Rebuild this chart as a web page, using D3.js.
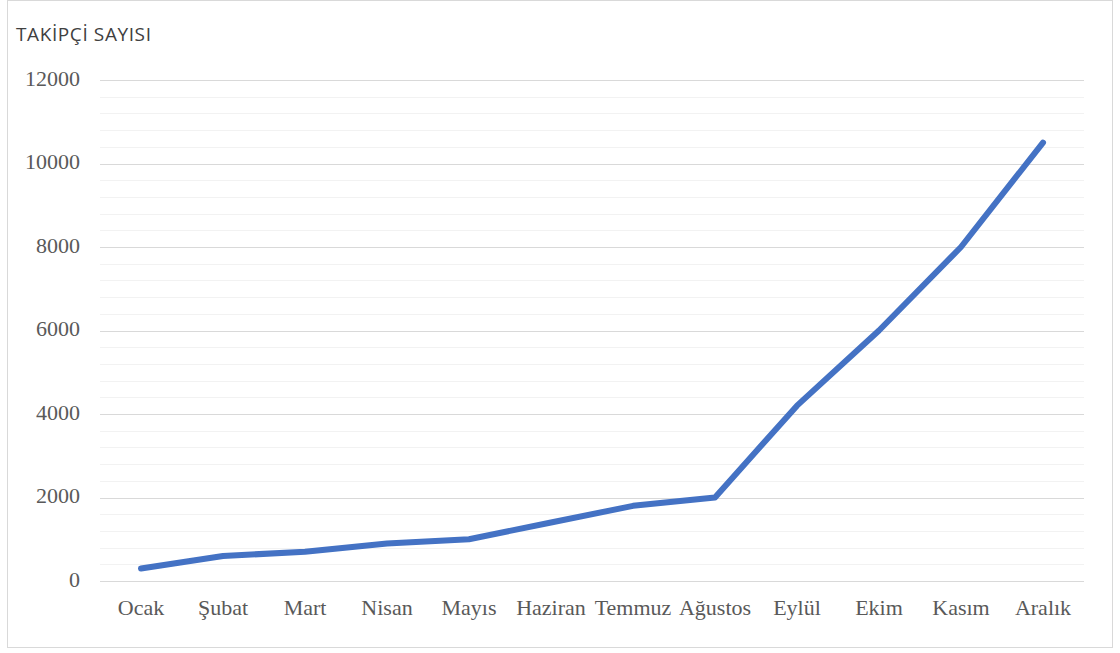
<!DOCTYPE html>
<html><head><meta charset="utf-8">
<script src="https://cdn.jsdelivr.net/npm/d3@7"></script>
<style>body{margin:0;background:#fff}svg{display:block}</style>
</head><body>
<svg id="c" width="1120" height="653"></svg>
<script>
const months = ["Ocak","Şubat","Mart","Nisan","Mayıs","Haziran","Temmuz","Ağustos","Eylül","Ekim","Kasım","Aralık"];
const followers = [300,600,700,900,1000,1400,1800,2000,4200,6000,8000,10500];
const yTicks = [0,2000,4000,6000,8000,10000,12000];
const minorTicks = d3.range(0,12001,400);
const title = "TAKİPÇİ SAYISI";

const svg = d3.select("#c");
svg.append("rect").attr("x",7.5).attr("y",0.5).attr("width",1105).attr("height",647)
  .attr("fill","#fff").attr("stroke","#d9d9d9").attr("stroke-width",1);

const x = d3.scaleBand().domain(months).range([100,1084]);
const y = d3.scaleLinear().domain([0,12000]).range([581,80]);

const g = svg.append("g");
g.selectAll(".minor").data(minorTicks.filter(v=>v%2000!==0)).join("line")
  .attr("x1",100).attr("x2",1084).attr("y1",d=>Math.round(y(d))+0.5).attr("y2",d=>Math.round(y(d))+0.5)
  .attr("stroke","#f2f2f2").attr("stroke-width",1);
g.selectAll(".major").data(yTicks).join("line")
  .attr("x1",100).attr("x2",1084).attr("y1",d=>Math.round(y(d))+0.5).attr("y2",d=>Math.round(y(d))+0.5)
  .attr("stroke","#d9d9d9").attr("stroke-width",1);

const yAxis = svg.append("g").attr("transform","translate(80,-2)")
  .call(d3.axisLeft(y).tickValues(yTicks).tickSize(0).tickPadding(0).tickFormat(d=>String(d)));
yAxis.select(".domain").remove();
yAxis.selectAll("text").attr("font-family","'Liberation Serif', serif").attr("font-size",22).attr("fill","#595959");

const xAxis = svg.append("g").attr("transform","translate(0,599)")
  .call(d3.axisBottom(x).tickSize(0).tickPadding(0));
xAxis.select(".domain").remove();
xAxis.selectAll("text").attr("font-family","'Liberation Serif', serif").attr("font-size",22).attr("fill","#595959");

svg.append("path").datum(followers)
  .attr("fill","none").attr("stroke","#4472C4").attr("stroke-width",6)
  .attr("stroke-linecap","round").attr("stroke-linejoin","round")
  .attr("d", d3.line().x((d,i)=>x(months[i])+x.bandwidth()/2).y(d=>y(d)));

svg.append("text").attr("x",16).attr("y",41).text(title)
  .attr("font-family","'Open Sans', sans-serif").attr("font-size",19).attr("letter-spacing",0.6).attr("fill","#404040");
</script>
</body></html>
